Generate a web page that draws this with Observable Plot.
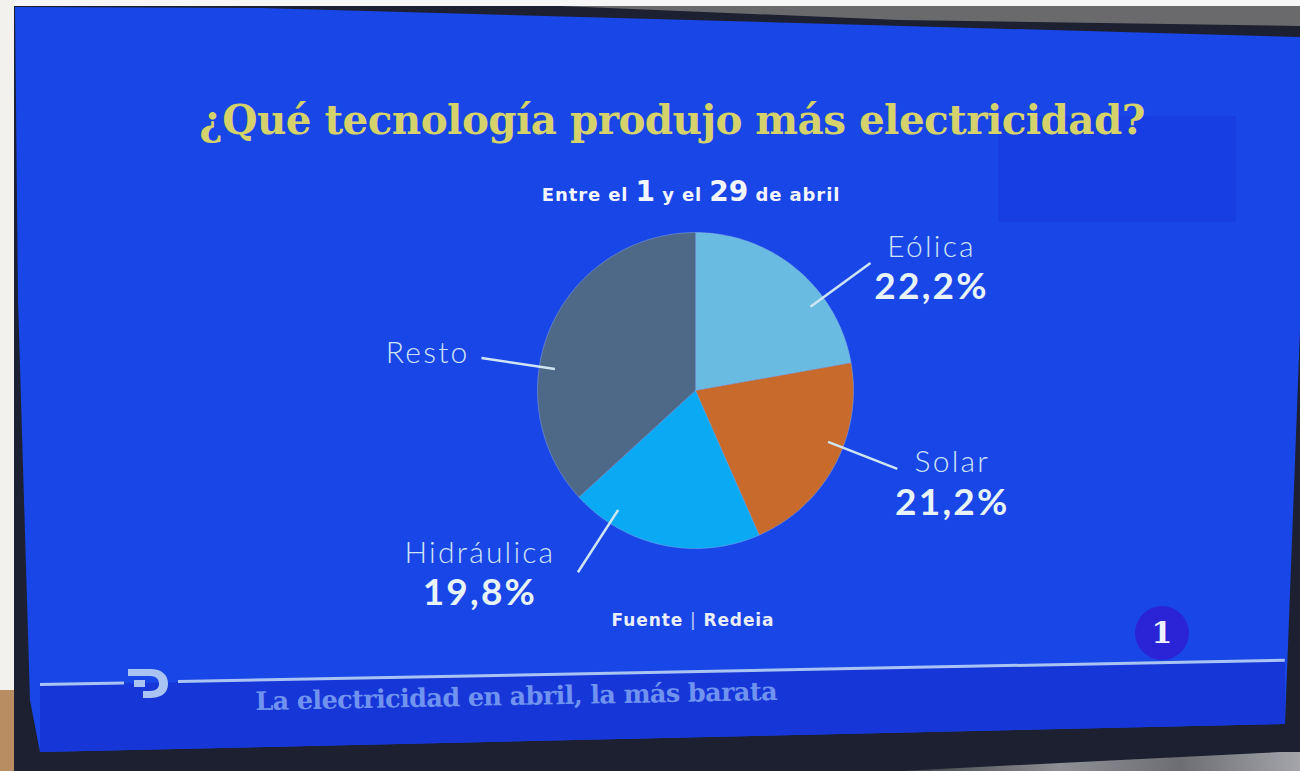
<!DOCTYPE html>
<html lang="es">
<head>
<meta charset="utf-8">
<script src="https://cdn.jsdelivr.net/npm/d3@7"></script>
<script src="https://cdn.jsdelivr.net/npm/@observablehq/plot@0.6"></script>
<style>
  html, body { margin: 0; padding: 0; }
  body { width: 1300px; height: 771px; overflow: hidden; position: relative; background: #1c2030; font-family: Lato, "Noto Sans", sans-serif; }
  .abs { position: absolute; }
  #wallTop { left: 0; top: 0; width: 1300px; height: 40px; background: #f6f6f6; clip-path: polygon(0 0, 1300px 0, 1300px 6px, 0 6px); }
  #wallGray { left: 0; top: 0; width: 1300px; height: 40px; background: #6a6a6c; clip-path: polygon(560px 6px, 1300px 6px, 1300px 26px, 900px 20px); }
  #wallLeft { left: 0; top: 0; width: 14px; height: 700px; background: #f3f1ee; }
  #wood { left: 0; top: 690px; width: 14px; height: 81px; background: #b98d62; }
  #cloth { left: 900px; top: 752px; width: 400px; height: 19px; background: linear-gradient(90deg, #3a3d44, #8f9096 40%, #6d6e74 70%, #a4a5aa); clip-path: polygon(0 19px, 380px 0, 400px 0, 400px 19px); }
  #screen { left: 0; top: 0; width: 1300px; height: 771px; background: #1946e7;
    clip-path: polygon(15px 7px, 260px 8px, 1300px 37px, 1300px 330px, 1285px 724px, 40px 752px, 30px 700px, 18px 300px); }
  #ghost { left: 998px; top: 116px; width: 238px; height: 106px; background: #163ee2; }
  #band { left: 0; top: 0; width: 1300px; height: 771px; background: #1736d8;
    clip-path: polygon(40px 685px, 1285px 661px, 1285px 724px, 40px 752px); }
  .tick { height: 3px; background: #a9c4f2; transform-origin: 0 50%; transform: rotate(-1.1deg); }
  #title { left: 0; top: 100px; width: 1344px; text-align: center; font-family: "DejaVu Serif", serif; font-weight: bold; font-size: 40.5px; color: #d6d26b; letter-spacing: -0.6px; white-space: nowrap; line-height: 1; }
  #subtitle { left: 0; top: 178px; width: 1382px; text-align: center; color: #f2f5fb; font-family: "DejaVu Sans", sans-serif; font-weight: bold; font-size: 18px; letter-spacing: 0.9px; white-space: nowrap; line-height: 1; }
  #subtitle b { font-size: 28px; letter-spacing: 0; }
  #plot { left: 0; top: 0; }
  #plot text { letter-spacing: 2.2px; }
  #source { left: 0; top: 612px; width: 1386px; text-align: center; color: #e9eef9; font-family: "DejaVu Sans", sans-serif; font-weight: bold; font-size: 17px; letter-spacing: 0.9px; white-space: nowrap; line-height: 1; }
  #source span { font-weight: normal; opacity: 0.8; }
  #chan { left: 1135px; top: 606px; width: 54px; height: 54px; border-radius: 50%; background: #2b24d6; color: #eef1fb; font-family: "DejaVu Serif", serif; font-weight: bold; font-size: 30px; text-align: center; line-height: 54px; }
  #ticker { left: 255px; top: 689px; font-family: "DejaVu Serif", serif; font-weight: bold; font-size: 25.5px; color: #6f93ef; letter-spacing: -0.6px; white-space: nowrap; transform: rotate(-1.1deg); transform-origin: 0 0; line-height: 1; }
  #dlogo { left: 126px; top: 667px; width: 44px; height: 32px; }
</style>
</head>
<body>
<div id="wallTop" class="abs"></div>
<div id="wallGray" class="abs"></div>
<div id="wallLeft" class="abs"></div>
<div id="wood" class="abs"></div>
<div id="cloth" class="abs"></div>
<div id="screen" class="abs"></div>
<div id="ghost" class="abs"></div>
<div id="band" class="abs"></div>
<div class="abs tick" style="left:40px; top:683px; width:84px;"></div>
<div class="abs tick" style="left:178px; top:680px; width:1107px;"></div>
<div id="dlogo" class="abs">
  <svg width="44" height="32" viewBox="0 0 44 32"><path d="M2 2 H24 C36 2 42 8 42 17 C42 26 35 31 24 31 H17 V24 H24 C30 24 33 21 33 17 C33 12 30 9 24 9 H2 Z M8 13 H19 V20 H8 Z" fill="#a9c4f2"/></svg>
</div>
<div id="title" class="abs">¿Qué tecnología produjo más electricidad?</div>
<div id="subtitle" class="abs">Entre el <b>1</b> y el <b>29</b> de abril</div>
<div id="plot" class="abs"></div>
<div id="source" class="abs">Fuente <span>|</span> Redeia</div>
<div id="chan" class="abs">1</div>
<div id="ticker" class="abs">La electricidad en abril, la más barata</div>
<script>
// ---- data ----
const categories = ["Eólica", "Solar", "Hidráulica", "Resto"];
const shares = [22.2, 21.2, 19.8, 36.8];
const shareLabels = ["22,2%", "21,2%", "19,8%", ""];
const colors = ["#69bbe2", "#c76a2b", "#0aa9f4", "#4e6888"];

// ---- layout (pie centre/radius in pixels, label placement) ----
const W = 1300, H = 771, cx = 695, cy = 390, rPx = 158;
const leaderPos = [0.675, 0.41, 0.795, 0.386];   // position of leader line inside each slice (0..1)
const labelOffset = [                            // pixel offsets of labels from leader end
  {dx: 61, dyName: -16, dyPct: 24, anchor: "middle"},
  {dx: 55, dyName: -6, dyPct: 34, anchor: "middle"},
  {dx: -98, dyName: -19, dyPct: 21, anchor: "middle"},
  {dx: -12, dyName: -5, dyPct: 0, anchor: "end"}
];

const rows = categories.map((name, i) => ({name, value: shares[i], label: shareLabels[i]}));
const arcs = d3.pie().sort(null).value(d => d.value)(rows);

// slice outlines
const slicePts = arcs.flatMap(a => {
  const n = Math.max(2, Math.ceil((a.endAngle - a.startAngle) / (Math.PI / 180)));
  const pts = [{name: a.data.name, x: 0, y: 0}];
  for (let k = 0; k <= n; k++) {
    const t = a.startAngle + (a.endAngle - a.startAngle) * k / n;
    pts.push({name: a.data.name, x: Math.sin(t), y: Math.cos(t)});
  }
  return pts;
});

// leader lines
const leaders = arcs.map((a, i) => {
  const t = a.startAngle + (a.endAngle - a.startAngle) * leaderPos[i];
  return {name: a.data.name, label: a.data.label,
    x1: 0.9 * Math.sin(t), y1: 0.9 * Math.cos(t),
    x2: 1.37 * Math.sin(t), y2: 1.37 * Math.cos(t), off: labelOffset[i]};
});

const labelMarks = leaders.flatMap(l => {
  const m = [Plot.text([l], {x: "x2", y: "y2", text: "name", dx: l.off.dx, dy: l.off.dyName,
    textAnchor: l.off.anchor, lineAnchor: "middle", fill: "#cfe4f3",
    fontFamily: "Lato, 'Noto Sans', sans-serif", fontWeight: 300, fontSize: 30})];
  if (l.label) m.push(Plot.text([l], {x: "x2", y: "y2", text: "label", dx: l.off.dx, dy: l.off.dyPct,
    textAnchor: l.off.anchor, lineAnchor: "middle", fill: "#e8f3f6",
    fontFamily: "Lato, 'Noto Sans', sans-serif", fontWeight: "bold", fontSize: 37}));
  return m;
});

const chart = Plot.plot({
  width: W, height: H, margin: 0,
  style: {background: "none", overflow: "visible"},
  x: {domain: [-cx / rPx, (W - cx) / rPx], axis: null},
  y: {domain: [-(H - cy) / rPx, cy / rPx], axis: null},
  color: {domain: categories, range: colors},
  marks: [
    Plot.line(slicePts, {x: "x", y: "y", z: "name", fill: "name", stroke: "#8fb0e4", strokeOpacity: 0.45, strokeWidth: 1, curve: "linear-closed"}),
    Plot.link(leaders, {x1: "x1", y1: "y1", x2: "x2", y2: "y2", stroke: "#cfe5f2", strokeWidth: 2.5}),
    ...labelMarks
  ]
});
document.getElementById("plot").appendChild(chart);
</script>
</body>
</html>
